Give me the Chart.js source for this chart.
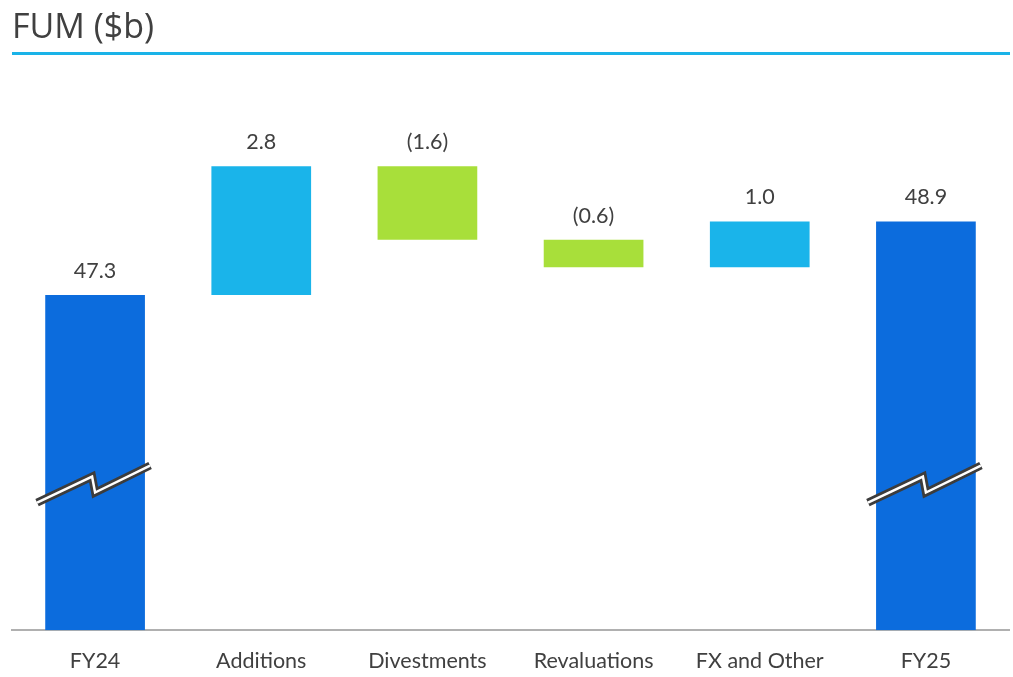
<!DOCTYPE html>
<html>
<head>
<meta charset="utf-8">
<script src="https://cdn.jsdelivr.net/npm/chart.js@4.4.1/dist/chart.umd.min.js"></script>
<style>
  html, body { margin: 0; padding: 0; background: #ffffff; }
  #wrap { position: relative; width: 1013px; height: 677px; overflow: hidden; }
  #title {
    position: absolute; left: 12px; top: 2px;
    font-family: "Open Sans", sans-serif; font-size: 34px; color: #404040;
    line-height: 46px;
  }
  #rule { position: absolute; left: 12px; top: 52px; width: 998px; height: 3px; background: #1ab3e8; }
  canvas { position: absolute; left: 0; top: 0; }
</style>
</head>
<body>
<div id="wrap">
  <canvas id="chart" width="1013" height="692"></canvas>
  <div id="title">FUM ($b)</div>
  <div id="rule"></div>
</div>
<script>
// Funds under management bridge, FY24 to FY25 ($b)
const categories = ["FY24", "Additions", "Divestments", "Revaluations", "FX and Other", "FY25"];
const kinds      = ["total", "change", "change", "change", "change", "total"];
const values     = [47.3, 2.8, -1.6, -0.6, 1.0, 48.9];

const AXIS_MIN = 40;
const AXIS_MAX = 52;
const BREAK_AT = 43.15;

const COLOR_TOTAL = "#0c6cdd";
const COLOR_UP    = "#1ab4ea";
const COLOR_DOWN  = "#a8df3a";
const FONT_FAMILY = "Lato, 'Open Sans', sans-serif";

// floating ranges for the waterfall
let running = 0;
const ranges = values.map((v, i) => {
  if (kinds[i] === "total") { running = v; return [AXIS_MIN, v]; }
  const start = running; running = +(running + v).toFixed(2);
  return [start, running];
});
const colors = values.map((v, i) => kinds[i] === "total" ? COLOR_TOTAL : (v >= 0 ? COLOR_UP : COLOR_DOWN));

function fmt(v) {
  const s = Math.abs(v).toFixed(1);
  return v < 0 ? "(" + s + ")" : s;
}

const labelPlugin = {
  id: "valueLabels",
  afterDatasetsDraw(chart) {
    const ctx = chart.ctx;
    const meta = chart.getDatasetMeta(0);
    ctx.save();
    ctx.font = "21.5px " + FONT_FAMILY;
    ctx.fillStyle = "#404040";
    ctx.textAlign = "center";
    ctx.textBaseline = "alphabetic";
    meta.data.forEach((bar, i) => {
      const top = Math.min(bar.y, bar.base);
      ctx.fillText(fmt(values[i]), bar.x, top - 17);
    });
    ctx.restore();
  }
};

const breakPlugin = {
  id: "axisBreak",
  afterDatasetsDraw(chart) {
    const ctx = chart.ctx;
    const meta = chart.getDatasetMeta(0);
    const yc = chart.scales.y.getPixelForValue(BREAK_AT);
    meta.data.forEach((bar, i) => {
      if (kinds[i] !== "total") return;
      const x = bar.x;
      const pts = [[x - 58, yc + 17], [x - 3, yc - 9], [x, yc + 7], [x + 55, yc - 20]];
      const path = () => {
        ctx.beginPath();
        ctx.moveTo(pts[0][0], pts[0][1]);
        for (let k = 1; k < pts.length; k++) ctx.lineTo(pts[k][0], pts[k][1]);
      };
      ctx.save();
      ctx.lineJoin = "miter";
      ctx.strokeStyle = "#3c3c3c"; ctx.lineWidth = 8; path(); ctx.stroke();
      ctx.strokeStyle = "#ffffff"; ctx.lineWidth = 2.5; path(); ctx.stroke();
      ctx.restore();
    });
  }
};

new Chart(document.getElementById("chart"), {
  type: "bar",
  data: {
    labels: categories,
    datasets: [{
      data: ranges,
      backgroundColor: colors,
      borderWidth: 0,
      borderSkipped: false,
      categoryPercentage: 1.0,
      barPercentage: 0.6
    }]
  },
  options: {
    responsive: false,
    animation: false,
    events: [],
    layout: { padding: { left: 12, right: 4, top: 79, bottom: 0 } },
    plugins: { legend: { display: false }, tooltip: { enabled: false }, title: { display: false } },
    scales: {
      x: {
        grid: { display: false, drawTicks: false },
        border: { display: true, color: "#b0b0b0", width: 2 },
        ticks: { color: "#404040", font: { family: FONT_FAMILY, size: 21.5 }, padding: 18 }
      },
      y: { display: false, min: AXIS_MIN, max: AXIS_MAX }
    }
  },
  plugins: [labelPlugin, breakPlugin]
});
</script>
</body>
</html>
